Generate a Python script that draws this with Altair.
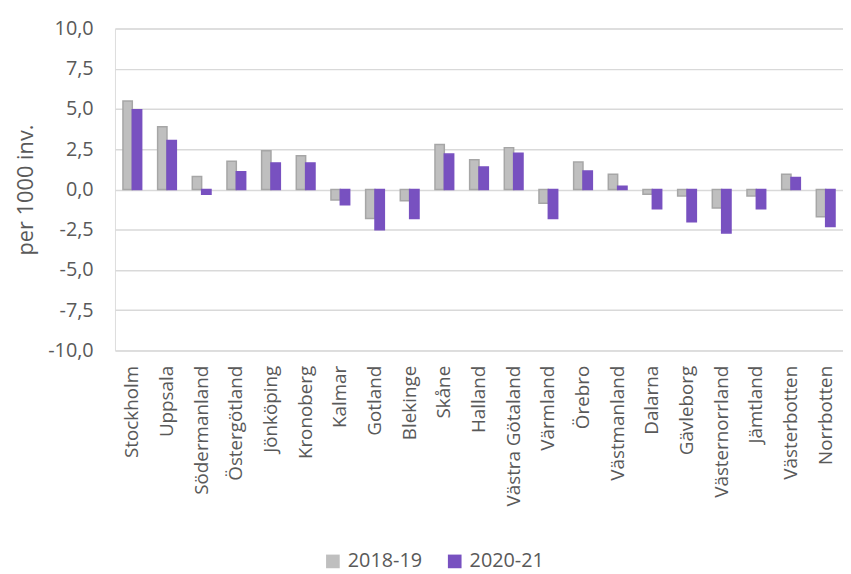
import altair as alt
import pandas as pd

regions = ["Stockholm", "Uppsala", "Södermanland", "Östergötland", "Jönköping",
           "Kronoberg", "Kalmar", "Gotland", "Blekinge", "Skåne", "Halland",
           "Västra Götaland", "Värmland", "Örebro", "Västmanland", "Dalarna",
           "Gävleborg", "Västernorrland", "Jämtland", "Västerbotten", "Norrbotten"]
series = ["2018-19", "2020-21"]
v_2018_19 = [5.5, 3.9, 0.8, 1.75, 2.4, 2.1, -0.65, -1.8, -0.7, 2.8, 1.85,
             2.6, -0.85, 1.7, 0.95, -0.3, -0.4, -1.15, -0.4, 0.95, -1.7]
v_2020_21 = [4.95, 3.05, -0.3, 1.1, 1.65, 1.65, -0.95, -2.5, -1.8, 2.2, 1.4,
             2.25, -1.8, 1.15, 0.2, -1.2, -2.0, -2.7, -1.2, 0.75, -2.3]

rows = []
for i, r in enumerate(regions):
    rows.append({"region": r, "series": series[0], "value": v_2018_19[i]})
    rows.append({"region": r, "series": series[1], "value": v_2020_21[i]})
df = pd.DataFrame(rows)

FONT = "Open Sans"
TXT = "#595959"

chart = alt.Chart(df).mark_bar(strokeWidth=1.5).encode(
    x=alt.X("region:N", sort=regions, title=None,
            scale=alt.Scale(paddingInner=0.46, paddingOuter=0.23),
            axis=alt.Axis(labelAngle=-90, labelFontSize=19, labelColor=TXT,
                          labelFont=FONT, ticks=False, domain=False,
                          labelPadding=15, grid=False, labelBaseline="middle")),
    xOffset=alt.XOffset("series:N", sort=series),
    y=alt.Y("value:Q", title="per 1000 inv.",
            scale=alt.Scale(domain=[-10, 10], nice=False),
            axis=alt.Axis(values=[-10, -7.5, -5, -2.5, 0, 2.5, 5, 7.5, 10],
                          labelExpr="replace(replace(format(datum.value, '.1f'), '.', ','), '\u2212', '-')",
                          labelFontSize=20, labelColor=TXT, labelFont=FONT,
                          ticks=False, domain=False, labelPadding=22,
                          gridColor="#d9d9d9", gridWidth=1.5,
                          titleFontSize=22, titleColor=TXT, titleFont=FONT,
                          titleFontWeight="normal", titlePadding=10)),
    color=alt.Color("series:N", sort=series,
                    scale=alt.Scale(domain=series, range=["#bfbfbf", "#7851c0"]),
                    legend=alt.Legend(title=None, orient="none", direction="horizontal",
                                      legendX=210, legendY=528,
                                      symbolType="square", symbolSize=190,
                                      symbolStrokeWidth=0,
                                      labelFontSize=20, labelColor=TXT, labelFont=FONT,
                                      columnPadding=22, labelOffset=5)),
    stroke=alt.Stroke("series:N", sort=series,
                      scale=alt.Scale(domain=series, range=["#a6a6a6", "#7851c0"]),
                      legend=None),
).properties(
    width=735, height=325,
    autosize=alt.AutoSizeParams(type="none"),
    padding={"left": 108, "top": 18, "right": 0, "bottom": 224},
).configure_view(stroke=None).configure(background="white")

chart.save("out.html", embed_options={"renderer": "svg", "actions": False})
